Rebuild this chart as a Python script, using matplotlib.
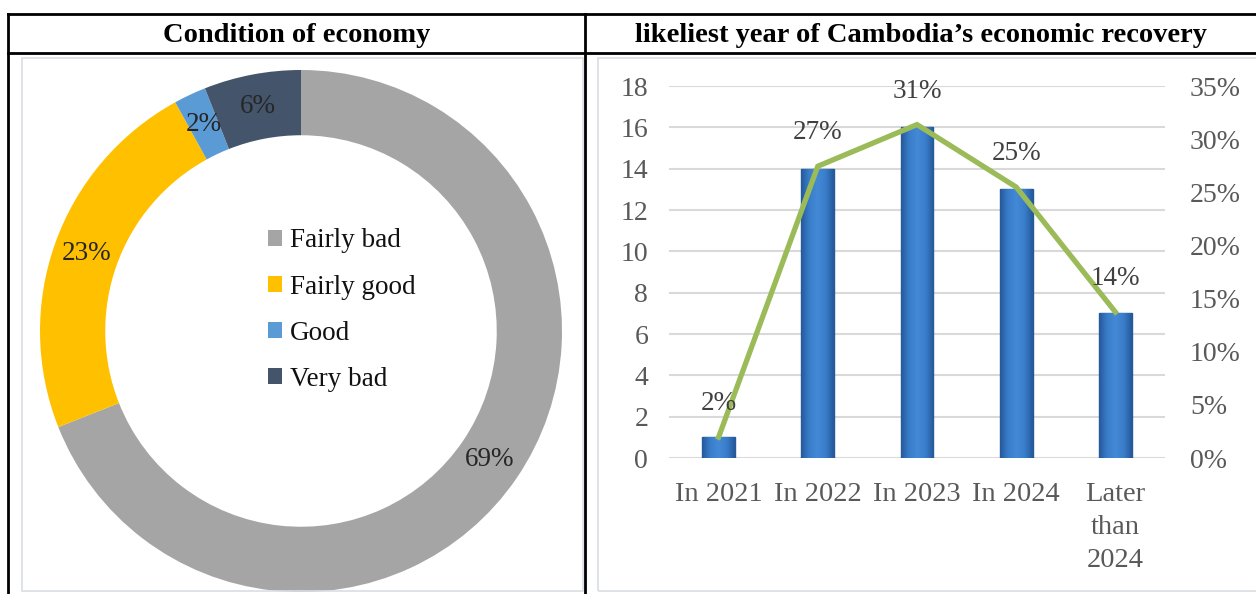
import numpy as np
import matplotlib
import matplotlib.pyplot as plt
from matplotlib.lines import Line2D
from matplotlib.patches import Rectangle
from matplotlib.colors import LinearSegmentedColormap
from matplotlib.ticker import FuncFormatter

matplotlib.use('Agg')
plt.rcParams['font.family'] = ['Liberation Serif', 'DejaVu Serif']

# donut data
condition_labels = ['Fairly bad', 'Fairly good', 'Good', 'Very bad']
condition_values = [69, 23, 2, 6]
condition_colors = ['#A5A5A5', '#FFC000', '#5B9BD5', '#44546A']

# recovery year data
years = ['In 2021', 'In 2022', 'In 2023', 'In 2024', 'Later\nthan\n2024']
counts = [1, 14, 16, 13, 7]
shares = [1.96, 27.45, 31.37, 25.49, 13.73]
share_labels = ['2%', '27%', '31%', '25%', '14%']

W, H = 1256, 594
fig = plt.figure(figsize=(W / 100, H / 100), dpi=100)


def fx(px):
    return px / W


def fy(py):
    return 1 - py / H


# table borders and chart frames
fig.add_artist(Rectangle((fx(22), fy(591)), fx(561), (533) / H, transform=fig.transFigure,
                         fill=False, ec='#D9DEE4', lw=1.2))
fig.add_artist(Rectangle((fx(598), fy(591)), fx(700), (533) / H, transform=fig.transFigure,
                         fill=False, ec='#D9DEE4', lw=1.2))
for xs, ys in [([8, W], [14, 14]), ([8, W], [53, 53]), ([8, 8], [14, H]), ([585, 585], [14, H])]:
    fig.add_artist(Line2D([fx(x) for x in xs], [fy(y) for y in ys], transform=fig.transFigure,
                          color='black', lw=2))

fig.text(fx(297), fy(36), 'Condition of economy', ha='center', va='center',
         fontsize=20.5, fontweight='bold')
fig.text(fx(921), fy(36), 'likeliest year of Cambodia\u2019s economic recovery', ha='center', va='center',
         fontsize=20.5, fontweight='bold')

# donut
cx, cy, r = 301, 331, 261
ax1 = fig.add_axes([fx(cx - r), fy(cy + r), 2 * r / W, 2 * r / H])
wedges, _ = ax1.pie(condition_values, colors=condition_colors, startangle=90, counterclock=False,
                    radius=1, wedgeprops=dict(width=0.25, linewidth=0))
ax1.set_xlim(-1, 1)
ax1.set_ylim(-1, 1)
ax1.set_aspect('equal')
for w, v in zip(wedges, condition_values):
    ang = np.deg2rad((w.theta1 + w.theta2) / 2)
    ax1.text(0.875 * np.cos(ang), 0.875 * np.sin(ang), f'{v}%', ha='center', va='center',
             fontsize=19.5, color='#262626')
ax1.legend(wedges, condition_labels, loc='center', bbox_to_anchor=(0.578, 0.54), frameon=False,
           fontsize=19.5, handlelength=0.5, handleheight=0.5, handletextpad=0.3, labelspacing=0.78,
           labelcolor='#111111')

# bar + line combo
ax2 = fig.add_axes([fx(669), fy(458), fx(496), 372 / H])
x = np.arange(len(years))
bars = ax2.bar(x, counts, width=0.33, color='#2F6EBA', edgecolor='#25599A', linewidth=1.0, zorder=2)
bar_cmap = LinearSegmentedColormap.from_list('bar', ['#25599A', '#3A7ECB', '#4389D6', '#3A7ECB', '#25599A'])
grad = np.linspace(0, 1, 64).reshape(1, -1)
for b in bars:
    im = ax2.imshow(grad, extent=[b.get_x(), b.get_x() + b.get_width(), 0, b.get_height()],
                    aspect='auto', cmap=bar_cmap, zorder=2.1, interpolation='bilinear')
    im.set_clip_path(b)
ax2.set_xlim(-0.5, len(years) - 0.5)
ax2.set_ylim(0, 18)
ax2.set_yticks(range(0, 19, 2))
ax2.grid(axis='y', color='#D9D9D9', lw=1.5, zorder=0)
ax2.set_axisbelow(True)
for s in ax2.spines.values():
    s.set_visible(False)
ax2.set_xticks(x)
ax2.set_xticklabels(years, fontsize=20.5, color='#595959', linespacing=1.42)
ax2.tick_params(axis='both', length=0, labelsize=20, labelcolor='#595959')
ax2.tick_params(axis='x', labelsize=20.5, pad=17)
ax2.tick_params(axis='y', pad=15)

ax3 = ax2.twinx()
ax3.plot(x, shares, color='#9BBB59', lw=3.8, solid_joinstyle='miter', zorder=3)
ax3.set_ylim(0, 35)
ax3.set_yticks(range(0, 36, 5))
ax3.yaxis.set_major_formatter(FuncFormatter(lambda v, p: f'{v:.0f}%'))
ax3.tick_params(axis='y', length=0, labelsize=20, labelcolor='#595959', pad=18)
for s in ax3.spines.values():
    s.set_visible(False)
for xi, yi, lab in zip(x, shares, share_labels):
    ax3.annotate(lab, (xi, yi), xytext=(0, 24), textcoords='offset points', ha='center', va='center',
                 fontsize=19.5, color='#404040')

fig.savefig('out.png', dpi=100)
